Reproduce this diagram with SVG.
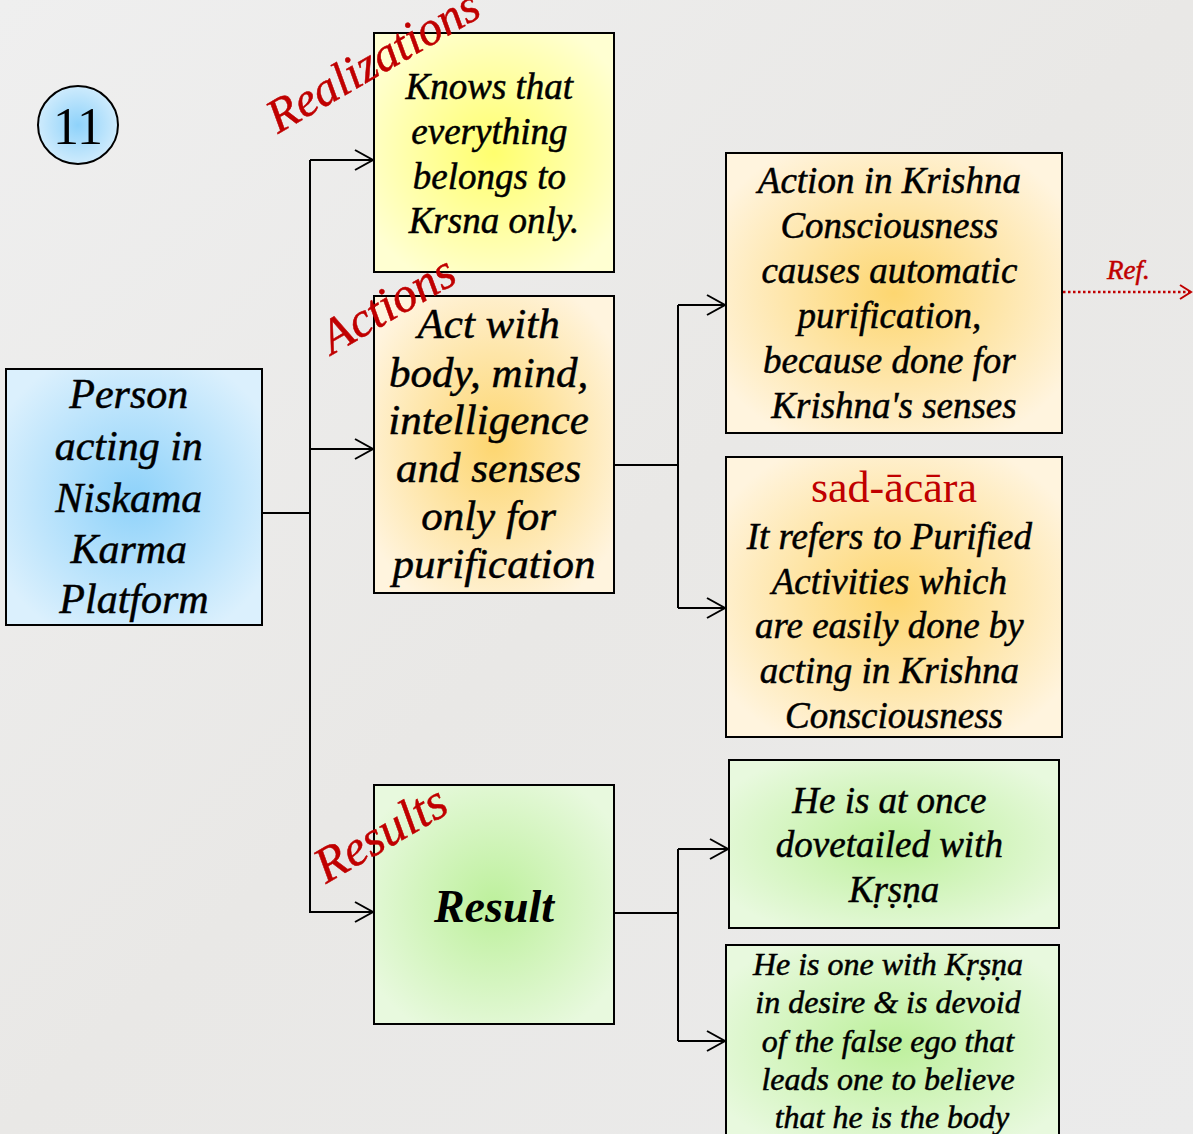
<svg xmlns="http://www.w3.org/2000/svg" width="1193" height="1134" viewBox="0 0 1193 1134">
<defs>
<linearGradient id="bg" x1="0" y1="0" x2="1" y2="1">
<stop offset="0" stop-color="#efefef"/>
<stop offset="0.5" stop-color="#e9e8e6"/>
<stop offset="1" stop-color="#ebebeb"/>
</linearGradient>
<radialGradient id="gBlue" cx="0.5" cy="0.5" r="0.6">
<stop offset="0" stop-color="#8ed2fa"/>
<stop offset="1" stop-color="#dbf0fd"/>
</radialGradient>
<radialGradient id="gYellow" cx="0.5" cy="0.5" r="0.6">
<stop offset="0" stop-color="#ffff6e"/>
<stop offset="1" stop-color="#ffffd2"/>
</radialGradient>
<radialGradient id="gOrange" cx="0.5" cy="0.5" r="0.6">
<stop offset="0" stop-color="#fdd670"/>
<stop offset="1" stop-color="#fff4de"/>
</radialGradient>
<radialGradient id="gGreen" cx="0.5" cy="0.5" r="0.6">
<stop offset="0" stop-color="#bdf09c"/>
<stop offset="1" stop-color="#e8f9de"/>
</radialGradient>
<marker id="arr" markerUnits="userSpaceOnUse" markerWidth="22" markerHeight="24" refX="19" refY="11" orient="auto">
<path d="M1,1 L19,11 L1,21" fill="none" stroke="#000" stroke-width="2"/>
</marker>
<marker id="arrRed" markerUnits="userSpaceOnUse" markerWidth="14" markerHeight="16" refX="12" refY="8" orient="auto">
<path d="M1,1 L12,8 L1,15" fill="none" stroke="#c00000" stroke-width="2"/>
</marker>
<style>
.box{stroke:#000;stroke-width:2}
.t{font-family:"Liberation Serif",serif;font-style:italic;fill:#000;stroke:#000;stroke-width:0.5;text-anchor:middle}
.lbl{font-family:"Liberation Serif",serif;font-style:italic;fill:#c00000;stroke:#c00000;stroke-width:0.5}
.conn{fill:none;stroke:#000;stroke-width:2}
</style>
</defs>
<rect width="1193" height="1134" fill="url(#bg)"/>

<g id="badge">
<ellipse cx="78" cy="125" rx="40" ry="39" fill="url(#gBlue)" stroke="#000" stroke-width="2"/>
<text x="78" y="144" font-family="Liberation Serif,serif" font-size="52" text-anchor="middle">11</text>
</g>

<g id="connectors">
<path class="conn" d="M262,513 H310"/>
<path class="conn" d="M310,160 V913"/>
<path class="conn" d="M310,160 H373" marker-end="url(#arr)"/>
<path class="conn" d="M310,449 H373" marker-end="url(#arr)"/>
<path class="conn" d="M310,912 H373" marker-end="url(#arr)"/>
<path class="conn" d="M614,465 H678 M678,305 V608"/>
<path class="conn" d="M678,305 H725" marker-end="url(#arr)"/>
<path class="conn" d="M678,608 H725" marker-end="url(#arr)"/>
<path class="conn" d="M614,913 H678 M678,849 V1041"/>
<path class="conn" d="M678,849 H728" marker-end="url(#arr)"/>
<path class="conn" d="M678,1041 H725" marker-end="url(#arr)"/>
<path d="M1063,292 H1191" fill="none" stroke="#c00000" stroke-width="2.5" stroke-dasharray="2.5,2.5" marker-end="url(#arrRed)"/>
<text class="lbl" x="1107" y="279" font-size="27">Ref.</text>
</g>

<g id="person">
<rect class="box" x="6" y="369" width="256" height="256" fill="url(#gBlue)"/>
<text class="t" font-size="42">
<tspan x="134" y="408">Person</tspan>
<tspan x="134" y="460">acting in</tspan>
<tspan x="134" y="512">Niskama</tspan>
<tspan x="134" y="563">Karma</tspan>
<tspan x="134" y="613">Platform</tspan>
</text>
</g>

<g id="realizations">
<rect class="box" x="374" y="33" width="240" height="239" fill="url(#gYellow)"/>
<text class="t" font-size="37">
<tspan x="494" y="99">Knows that</tspan>
<tspan x="494" y="144">everything</tspan>
<tspan x="494" y="189">belongs to</tspan>
<tspan x="494" y="233">Krsna only.</tspan>
</text>
<text class="lbl" font-size="48" transform="translate(278,134) rotate(-30)">Realizations</text>
</g>

<g id="actions">
<rect class="box" x="374" y="296" width="240" height="297" fill="url(#gOrange)"/>
<text class="t" font-size="43">
<tspan x="494" y="338">Act with</tspan>
<tspan x="494" y="387">body, mind,</tspan>
<tspan x="494" y="434">intelligence</tspan>
<tspan x="494" y="482">and senses</tspan>
<tspan x="494" y="530">only for</tspan>
<tspan x="494" y="578">purification</tspan>
</text>
<text class="lbl" font-size="49" transform="translate(332,355) rotate(-30)">Actions</text>
</g>

<g id="action-kc">
<rect class="box" x="726" y="153" width="336" height="280" fill="url(#gOrange)"/>
<text class="t" font-size="37">
<tspan x="894" y="193">Action in Krishna</tspan>
<tspan x="894" y="238">Consciousness</tspan>
<tspan x="894" y="283">causes automatic</tspan>
<tspan x="894" y="328">purification,</tspan>
<tspan x="894" y="373">because done for</tspan>
<tspan x="894" y="418">Krishna's senses</tspan>
</text>
</g>

<g id="sad-acara">
<rect class="box" x="726" y="457" width="336" height="280" fill="url(#gOrange)"/>
<text class="t" font-size="44" style="font-style:normal;fill:#c00000;stroke:none">
<tspan x="894" y="502">sad-ācāra</tspan>
</text>
<text class="t" font-size="37">
<tspan x="894" y="549">It refers to Purified</tspan>
<tspan x="894" y="594">Activities which</tspan>
<tspan x="894" y="638">are easily done by</tspan>
<tspan x="894" y="683">acting in Krishna</tspan>
<tspan x="894" y="728">Consciousness</tspan>
</text>
</g>

<g id="result">
<rect class="box" x="374" y="785" width="240" height="239" fill="url(#gGreen)"/>
<text class="t" font-size="46" font-weight="bold" style="stroke:none" x="494" y="922">Result</text>
<text class="lbl" font-size="50" transform="translate(326,884) rotate(-30)">Results</text>
</g>

<g id="dovetailed">
<rect class="box" x="729" y="760" width="330" height="168" fill="url(#gGreen)"/>
<text class="t" font-size="37">
<tspan x="894" y="813">He is at once</tspan>
<tspan x="894" y="857">dovetailed with</tspan>
<tspan x="894" y="902">Kṛṣṇa</tspan>
</text>
</g>

<g id="one-with">
<rect class="box" x="726" y="945" width="333" height="200" fill="url(#gGreen)"/>
<text class="t" font-size="32">
<tspan x="892" y="975">He is one with Kṛṣṇa</tspan>
<tspan x="892" y="1013">in desire &amp; is devoid</tspan>
<tspan x="892" y="1052">of the false ego that</tspan>
<tspan x="892" y="1090">leads one to believe</tspan>
<tspan x="892" y="1128">that he is the body</tspan>
</text>
</g>
</svg>
